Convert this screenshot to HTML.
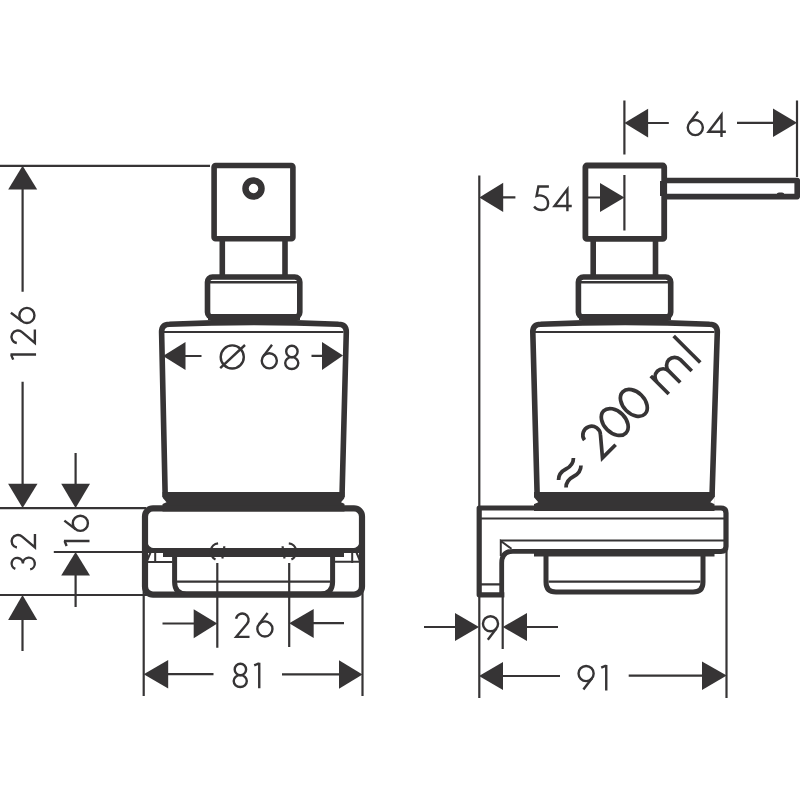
<!DOCTYPE html>
<html><head><meta charset="utf-8">
<style>
html,body{margin:0;padding:0;background:#fff;width:800px;height:800px;overflow:hidden}
svg{display:block}
</style></head><body>
<svg width="800" height="800" viewBox="0 0 800 800">

<g fill="none" stroke="#363435" stroke-linecap="butt">
<!-- ===== dimension lines (thin) ===== -->
<g stroke-width="2.2">
<!-- 126 -->
<path d="M0 165.8H210 M22.6 189V291.7 M22.6 381.8V484 M0 508.1H146"/>
<!-- 16 -->
<path d="M75.6 453V484 M53.8 552H143 M75.6 575V607"/>
<!-- 32 -->
<path d="M0 595H150 M22.5 619V651"/>
<!-- 68 -->
<path d="M185 356H201.5 M311.5 355.8H322"/>
<!-- 26 -->
<path d="M217.3 563V647.7 M289.2 563V647 M162.5 623.5H194 M313 623.2H344"/>
<!-- 81 -->
<path d="M143.7 586V696 M362.5 586V696 M168 674.2H213.5 M282 674.4H339.5"/>
<!-- 64 -->
<path d="M624.4 100.6V154.4 M624.4 175V230.6 M797 100.5V177 M648 123H668.8 M737 122.8H773.5"/>
<!-- 54 -->
<path d="M479.3 175.4V698 M503 197.4H515.4 M587.5 197.5H600.5"/>
<!-- 9 -->
<path d="M502.7 597V649 M424 627H455.5 M526.5 627H558"/>
<!-- 91 -->
<path d="M503 676H560 M628.7 675.6H702.5 M726.5 551V698"/>
</g>
</g>
<!-- arrows -->
<g fill="#363435">
<polygon points="22.6,165.8 8.2,189.5 37.2,189.5"/>
<polygon points="22.6,508 8.1,483.8 37.5,483.8"/>
<polygon points="75.6,508 61.2,483.8 90,483.8"/>
<polygon points="75.6,552 61.2,575.6 90,575.6"/>
<polygon points="22.5,595 8.1,620 37.2,620"/>
<polygon points="163,356 185.5,342 185.5,370"/>
<polygon points="343,355.6 322,342 322,370"/>
<polygon points="217.3,623.5 193.7,609.3 193.7,638.2"/>
<polygon points="289.2,623.2 313.7,609 313.7,638"/>
<polygon points="143.7,674.2 168.2,660 168.2,688.5"/>
<polygon points="362.5,674.4 339,660.2 339,688.7"/>
<polygon points="624.4,123 648.1,108.8 648.1,137.5"/>
<polygon points="797,122.7 773,108.5 773,137"/>
<polygon points="479.3,197.4 503.2,182.8 503.2,212"/>
<polygon points="624.4,197.5 600,183 600,212"/>
<polygon points="479,627 455,613 455,641"/>
<polygon points="502.7,627 527,613 527,641"/>
<polygon points="479,676 503,662 503,690"/>
<polygon points="726.7,675.6 702,661.5 702,690"/>
</g>

<!-- ===== LEFT VIEW ===== -->
<g id="left" fill="none" stroke="#363435">
<!-- pump head -->
<rect x="214.1" y="165.5" width="78.8" height="73.2" rx="1.5" stroke-width="5.6"/>
<circle cx="253.5" cy="188.5" r="8" stroke-width="6.5"/>
<!-- neck -->
<path d="M222.3 241V276 M285 241V276" stroke-width="5.6"/>
<!-- collar -->
<rect x="207.5" y="277" width="92.3" height="40.3" rx="5" stroke-width="5.6"/>
<path d="M210 282.3H298" stroke-width="2.4"/>
<path d="M208 317H300" stroke-width="6"/>
<!-- body -->
<path d="M165.2 497 L161.6 332 Q161.6 324.2 169.4 324.2 Q254 320.6 338.5 324.2 Q346.3 324.2 346.3 332 L342 497" stroke-width="5.6"/>
<path d="M164 332H343.5" stroke-width="2.2"/>
<rect x="162.5" y="492" width="182" height="19.5" fill="#363435" stroke="none"/>
<!-- tray -->
<rect x="145" y="508.4" width="217" height="86.2" rx="8" stroke-width="6.2"/>
<path d="M145 550.5H362" stroke-width="5"/>
<path d="M163 552.5H344" stroke-width="9"/>
<path d="M147.5 541 Q147.5 548.2 155 548.2 H147.5Z M359.5 541 Q359.5 548.2 352 548.2 H359.5Z" fill="#363435" stroke="none"/>
<path d="M174.6 556V582 Q174.6 594 186.6 594 H320.5 Q332.6 594 332.6 582 V556" stroke-width="5"/>
<path d="M177 581.6H330.5" stroke-width="2.2"/>
<path d="M148 562H172.5 M335 561.8H359 M155.2 553V563 M352.2 553V563 M150.5 552.5 L147 561 M356.5 552.5 L360 561" stroke-width="2"/>
<path d="M218.1 543.4 A8.4 8.4 0 0 0 215.5 559.4 M224.3 546.2 Q224 553 222.3 558.5 M288.8 543.4 A8.4 8.4 0 0 1 291.4 559.4 M282.6 546.2 Q282.9 553 284.6 558.5" stroke-width="2.2"/>
<path d="M162 497 L166.5 502.3 L162 504.3 Z M345.5 497 L341 502.3 L345.5 504.3 Z" fill="#fff" stroke="none"/>
</g>

<!-- ===== RIGHT VIEW ===== -->
<g id="right" fill="none" stroke="#363435">
<rect x="585.4" y="165.5" width="78.8" height="73.4" rx="1.5" stroke-width="5.8"/>
<!-- spout -->
<path d="M662 180.5 H797.2 V196.6 H662" stroke-width="5.6" stroke-linejoin="round"/>
<path d="M661.6 181V196" stroke-width="3.2"/>
<path d="M776.5 194.5 Q777 192.6 779 192.6 H782 Q784 192.6 784.5 194.5Z" fill="#363435" stroke="none"/>
<!-- neck -->
<path d="M593.2 241V276 M655.5 241V276" stroke-width="5.6"/>
<!-- collar -->
<rect x="578.4" y="277" width="92.3" height="40.3" rx="5" stroke-width="5.6"/>
<path d="M581 282.3H669" stroke-width="2.4"/>
<path d="M579 317H671" stroke-width="6"/>
<!-- body -->
<path d="M537.2 497 L532.8 332 Q532.8 324.2 540.6 324.2 Q625 320.6 709.5 324.2 Q717.3 324.2 717.3 332 L712 497" stroke-width="5.6"/>
<path d="M535 332H714.5" stroke-width="2.2"/>
<rect x="534" y="492" width="180.5" height="19" fill="#363435" stroke="none"/>
<!-- bracket -->
<path d="M504.3 594.8H479.2 V508 H721 Q726 508 726 513 V546.5 Q726 551.5 721 551.5 H700" stroke-width="5.2" stroke-linejoin="round"/>
<path d="M481 518.5H724 M500 540.5H724 M481 584.3H500" stroke-width="2.2"/>
<path d="M501.7 597 V563 Q501.7 551.3 513 551.3 H721" stroke-width="4.8"/>
<path d="M534 552.8H714.5" stroke-width="7.5"/>
<path d="M511.5 548.8 L500.8 541 V556" stroke-width="2"/>
<path d="M546 556V582 Q546 592 556 592 H693 Q703 592 703 582 V556" stroke-width="5"/>
<path d="M548.5 581.6H700.5" stroke-width="2.2"/>
<path d="M533.8 497 L538.3 502.3 L533.8 504.3 Z M714.8 497 L710.3 502.3 L714.8 504.3 Z" fill="#fff" stroke="none"/>
</g>

<g fill="none" stroke="#363435" stroke-width="2.4" stroke-linejoin="miter" stroke-miterlimit="4"><g transform="translate(219.50 344.20)"><circle cx="12.75" cy="12.75" r="11.55"/><path d="M0.7 24.0 L25.5 0.8"/></g><g transform="translate(260.70 344.20)"><path d="M11.3 0.6 L2.67 11.92"/><circle cx="8.6" cy="16.6" r="7.55"/></g><g transform="translate(284.00 344.50)"><ellipse cx="7.9" cy="6.95" rx="5.7" ry="5.75"/><ellipse cx="7.75" cy="18.6" rx="6.55" ry="5.95"/></g></g>
<g fill="none" stroke="#363435" stroke-width="2.4" stroke-linejoin="miter" stroke-miterlimit="4"><g transform="translate(233.90 612.30)"><path d="M2.18 6.5 A6.3 6.3 0 1 1 13.02 11.78 L2.3 24.55 H15.6"/></g><g transform="translate(256.30 612.30)"><path d="M11.3 0.6 L2.67 11.92"/><circle cx="8.6" cy="16.6" r="7.55"/></g></g>
<g fill="none" stroke="#363435" stroke-width="2.4" stroke-linejoin="miter" stroke-miterlimit="4"><g transform="translate(232.50 662.50)"><ellipse cx="7.9" cy="6.95" rx="5.7" ry="5.75"/><ellipse cx="7.75" cy="18.6" rx="6.55" ry="5.95"/></g><g transform="translate(254.00 662.50)"><path d="M0.2 2.9 L4.2 1.2 H5.3 M5.25 0.2 V25.75"/></g></g>
<g fill="none" stroke="#363435" stroke-width="2.4" stroke-linejoin="miter" stroke-miterlimit="4"><g transform="translate(686.70 111.00)"><path d="M11.3 0.6 L2.67 11.92"/><circle cx="8.6" cy="16.6" r="7.55"/></g><g transform="translate(707.70 111.00)"><path d="M13.8 25.9 V3.9 L0.9 20.7 H18.15"/></g></g>
<g fill="none" stroke="#363435" stroke-width="2.4" stroke-linejoin="miter" stroke-miterlimit="4"><g transform="translate(533.00 185.30)"><path d="M15.9 1.2 H5.4 L3.6 10.6 C6.8 9.3 15.1 10.3 15.1 18.1 C15.1 22.5 12 24.7 8.6 24.7 C5.3 24.7 2.6 23.3 1.1 21.2"/></g><g transform="translate(553.60 185.30)"><path d="M13.8 25.9 V3.9 L0.9 20.7 H18.15"/></g></g>
<g fill="none" stroke="#363435" stroke-width="2.4" stroke-linejoin="miter" stroke-miterlimit="4"><g transform="translate(482.00 615.00)"><path d="M5.8 24.75 L14.43 13.43"/><circle cx="8.5" cy="8.75" r="7.55"/></g></g>
<g fill="none" stroke="#363435" stroke-width="2.4" stroke-linejoin="miter" stroke-miterlimit="4"><g transform="translate(577.60 664.80)"><path d="M5.8 24.75 L14.43 13.43"/><circle cx="8.5" cy="8.75" r="7.55"/></g><g transform="translate(601.00 664.80)"><path d="M0.2 2.9 L4.2 1.2 H5.3 M5.25 0.2 V25.75"/></g></g>
<g fill="none" stroke="#363435" stroke-width="2.4" stroke-linejoin="miter" stroke-miterlimit="4" transform="translate(10.3 359.8) rotate(-90)"><g transform="translate(0.00 0.00)"><path d="M0.2 2.9 L4.2 1.2 H5.3 M5.25 0.2 V25.75"/></g><g transform="translate(14.60 0.00)"><path d="M2.18 6.5 A6.3 6.3 0 1 1 13.02 11.78 L2.3 24.55 H15.6"/></g><g transform="translate(35.80 0.00)"><path d="M11.3 0.6 L2.67 11.92"/><circle cx="8.6" cy="16.6" r="7.55"/></g></g>
<g fill="none" stroke="#363435" stroke-width="2.4" stroke-linejoin="miter" stroke-miterlimit="4" transform="translate(10.4 571.5) rotate(-90)"><g transform="translate(-0.20 0.00)"><path d="M2.8 4.95 A5.65 5.65 0 1 1 8.1 12.5 A5.95 5.95 0 1 1 2.3 19.79"/></g><g transform="translate(21.80 0.00)"><path d="M2.18 6.5 A6.3 6.3 0 1 1 13.02 11.78 L2.3 24.55 H15.6"/></g></g>
<g fill="none" stroke="#363435" stroke-width="2.4" stroke-linejoin="miter" stroke-miterlimit="4" transform="translate(63.75 546.25) rotate(-90)"><g transform="translate(0.00 0.00)"><path d="M0.2 2.9 L4.2 1.2 H5.3 M5.25 0.2 V25.75"/></g><g transform="translate(14.35 0.00)"><path d="M11.3 0.6 L2.67 11.92"/><circle cx="8.6" cy="16.6" r="7.55"/></g></g>
<g fill="none" stroke="#363435" stroke-width="2.65" stroke-linejoin="miter" stroke-miterlimit="4" transform="rotate(-45)"><g transform="translate(55.50 715.45) scale(1.4)"><path d="M0 13.5 C2.5 11.0 5.35 10.4 9.35 11.7 S16.2 12.4 18.7 9.9"/><path d="M0 21.1 C2.5 18.6 5.35 18.0 9.35 19.3 S16.2 20.0 18.7 17.5"/></g><g transform="translate(99.00 715.45) scale(1.4)"><path d="M2.18 6.5 A6.3 6.3 0 1 1 13.02 11.78 L2.3 24.55 H15.6"/></g><g transform="translate(123.84 715.45) scale(1.4)"><ellipse cx="8.9" cy="12.6" rx="7.7" ry="11.2"/></g><g transform="translate(150.84 715.45) scale(1.4)"><ellipse cx="8.9" cy="12.6" rx="7.7" ry="11.2"/></g><g transform="translate(192.62 725.60) scale(1.4)"><path d="M1.2 18.5 V0.3 M1.2 7.0 A5.8 5.8 0 0 1 12.8 7.0 V18.5 M12.8 7.0 A5.8 5.8 0 0 1 24.4 7.0 V18.5"/></g><g transform="translate(237.12 715.45) scale(1.4)"><path d="M1.2 -1.1 V25.75"/></g></g>
</svg>
</body></html>
